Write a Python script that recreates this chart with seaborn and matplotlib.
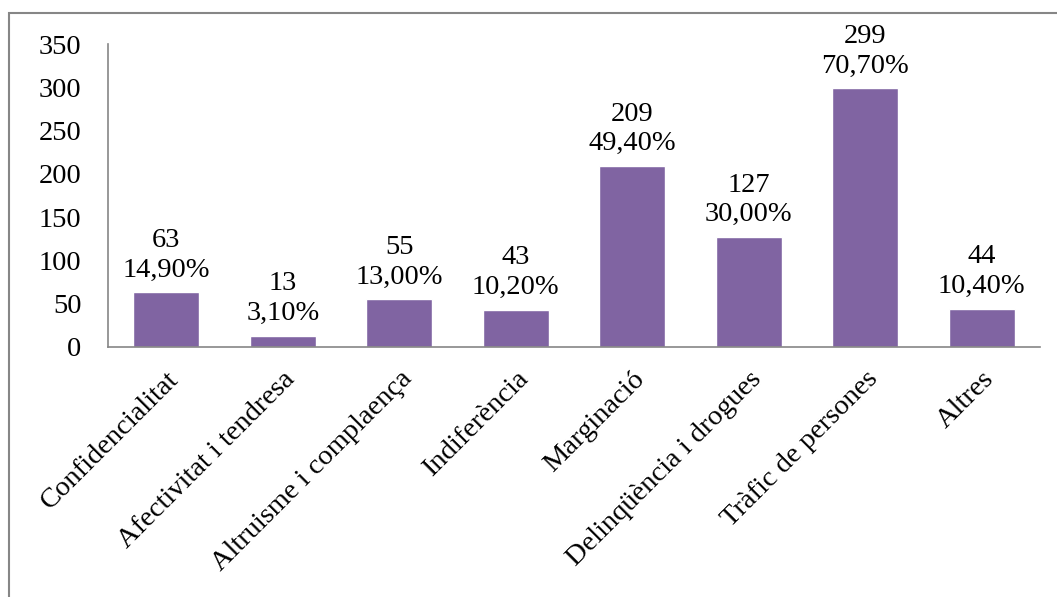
import matplotlib
matplotlib.use("Agg")
import matplotlib.pyplot as plt
import seaborn as sns
from matplotlib.patches import Rectangle


# ==============================
# DATA
# ==============================

categories = [
    "Confidencialitat",
    "Afectivitat i tendresa",
    "Altruisme i complaença",
    "Indiferència",
    "Marginació",
    "Delinqüència i drogues",
    "Tràfic de persones",
    "Altres",
]

counts = [63, 13, 55, 43, 209, 127, 299, 44]

percents = ["14,90%", "3,10%", "13,00%", "10,20%",
            "49,40%", "30,00%", "70,70%", "10,40%"]


# ==============================
# PLOT
# ==============================

sns.set_style("white")
plt.rcParams["font.family"] = ["Liberation Serif", "DejaVu Serif"]
plt.rcParams["text.color"] = "black"
plt.rcParams["xtick.color"] = "black"
plt.rcParams["ytick.color"] = "black"

FS = 20.5

fig = plt.figure(figsize=(10.57, 5.97), dpi=100)
ax = fig.add_axes([108 / 1057, 1 - 347 / 597, 932 / 1057, 303 / 597])

sns.barplot(
    x=categories,
    y=counts,
    color="#8064A2",
    saturation=1,
    width=0.57,
    ax=ax
)

for i, (c, p) in enumerate(zip(counts, percents)):
    ax.annotate(
        f"{c}\n{p}",
        xy=(i, c),
        xytext=(0, 7),
        textcoords="offset points",
        ha="center",
        va="bottom",
        fontsize=FS,
        color="black",
        linespacing=1.25
    )

ax.set_ylim(0, 350)
ax.set_yticks(range(0, 351, 50))
ax.set_xlim(-0.5, len(categories) - 0.5)

ax.tick_params(axis="y", labelsize=FS, length=0, pad=19, labelcolor="black")
ax.tick_params(axis="x", labelsize=FS, length=0, pad=14, labelcolor="black")

plt.setp(
    ax.get_xticklabels(),
    rotation=45,
    ha="right",
    rotation_mode="anchor"
)

for side in ["top", "right"]:
    ax.spines[side].set_visible(False)
for side in ["left", "bottom"]:
    ax.spines[side].set_color("#868686")
    ax.spines[side].set_linewidth(1.2)

# outer chart border
fig.patches.append(
    Rectangle(
        (9 / 1057, -0.1),
        1.2,
        1 - 13 / 597 + 0.1,
        transform=fig.transFigure,
        fill=False,
        edgecolor="#868686",
        linewidth=1.5
    )
)

fig.savefig("out.png", dpi=100)
